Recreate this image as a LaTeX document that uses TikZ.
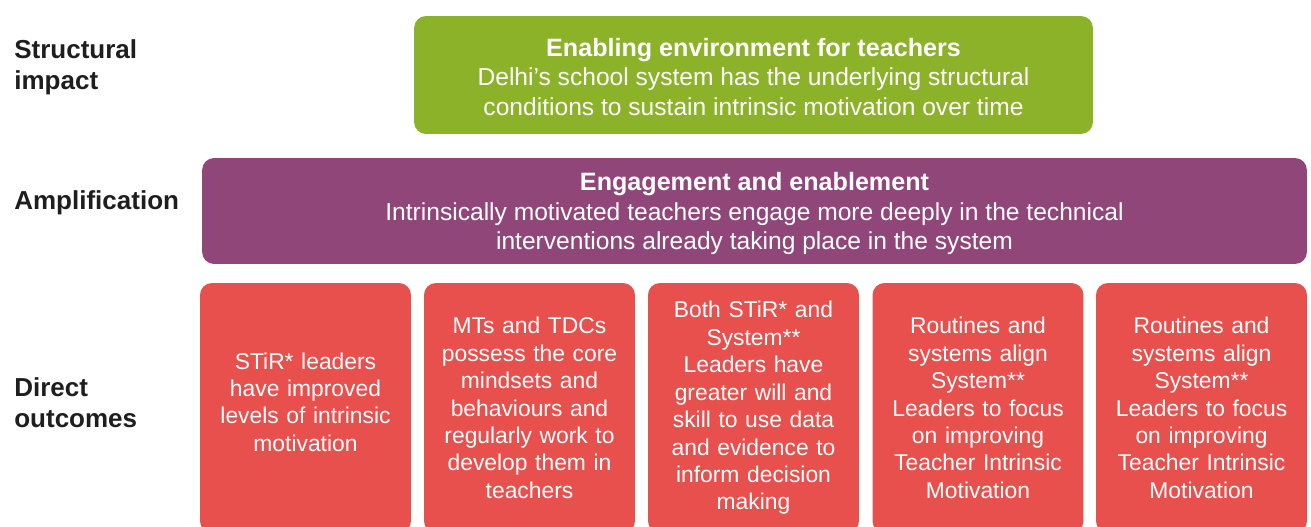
\documentclass[tikz,border=0pt]{standalone}
\usepackage{fontspec}
\setmainfont{Liberation Sans}
\usepackage{tikz}

\definecolor{envgreen}{RGB}{139,178,41}
\definecolor{ampplum}{RGB}{145,70,122}
\definecolor{outred}{RGB}{231,80,76}
\definecolor{labelgrey}{RGB}{30,30,30}

\tikzset{
  levellabel/.style={anchor=west, align=left, text=labelgrey,
    font=\fontsize{14.8}{17.5}\selectfont\bfseries, inner sep=0pt},
  bandbox/.style={rounded corners=0.24cm, inner sep=0pt},
  bandtext/.style={text=white, align=center,
    font=\fontsize{14}{16.9}\selectfont, inner sep=0pt},
  outbox/.style={fill=outred, rounded corners=0.24cm, text=white, align=center,
    minimum width=4.22cm, minimum height=5.0cm, text width=4.1cm,
    font=\fontsize{13}{15.6}\selectfont, inner sep=0pt},
  outtext/.style={text=white, align=center, text width=4.1cm,
    font=\fontsize{13}{15.6}\selectfont, inner sep=0pt}
}

\begin{document}
\begin{tikzpicture}[x=0.02cm, y=-0.02cm]
            \useasboundingbox (0,0) rectangle (1311,527);
            \clip (0,0) rectangle (1311,527);
            \fill[white] (0,0) rectangle (1311,527);
            % row labels
            \node[levellabel] (structural) at (14,67) {Structural\\impact};
            \node[levellabel] (amplification) at (14,202.5) {Amplification};
            \node[levellabel] (direct) at (14,403) {Direct\\outcomes};
            % top two bands
            \node[bandbox, fill=envgreen, minimum width=13.58cm, minimum height=2.36cm] (enabling) at (753.5,75) {};
            \node[bandtext] (enablingtext) at (753.5,77)
                {{\bfseries\fontsize{14.3}{16.9}\selectfont Enabling environment for teachers}\\
                 Delhi’s school system has the underlying structural\\
                 conditions to sustain intrinsic motivation over time};
            \node[bandbox, fill=ampplum, minimum width=22.1cm, minimum height=2.12cm] (engagement) at (754.5,211) {};
            \node[bandtext] (engagementtext) at (754.5,213.5)
                {{\bfseries\fontsize{14.3}{16.9}\selectfont Engagement and enablement}\\
                 Intrinsically motivated teachers engage more deeply in the technical\\
                 interventions already taking place in the system};
            % direct outcome boxes, all with their top edge at 283
            \node[outbox] (stir) at (305.5,408) {};
            \node[outtext] (stirtext) at (305.5,402) {STiR* leaders\\have improved\\levels of intrinsic\\motivation};
            \node[outbox] (mts) at (529.5,408) {MTs and TDCs\\possess the core\\mindsets and\\behaviours and\\regularly work to\\develop them in\\teachers};
            \node[outbox] (both) at (753.5,408) {Both STiR* and\\System**\\Leaders have\\greater will and\\skill to use data\\and evidence to\\inform decision\\making};
            \node[outbox] (routinesa) at (978,408) {Routines and\\systems align\\System**\\Leaders to focus\\on improving\\Teacher Intrinsic\\Motivation};
            \node[outbox] (routinesb) at (1201.5,408) {Routines and\\systems align\\System**\\Leaders to focus\\on improving\\Teacher Intrinsic\\Motivation};
        \end{tikzpicture}
\end{document}
